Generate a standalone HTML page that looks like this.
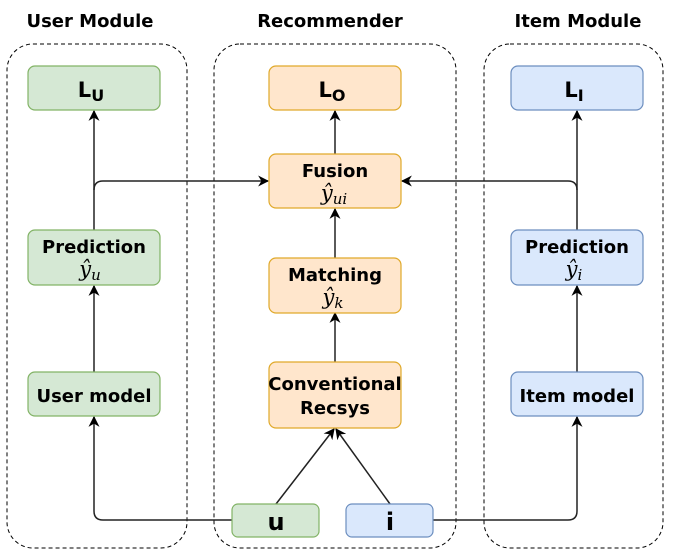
<!DOCTYPE html>
<html><head><meta charset="utf-8"><style>
body{margin:0;background:#fff}
svg{display:block}
.t{font-family:"DejaVu Sans","Liberation Sans",sans-serif;font-weight:bold;font-size:18px;fill:#000;text-anchor:middle}
.m{font-family:"DejaVu Serif","Liberation Serif",serif;font-style:italic;font-size:21px;text-anchor:middle}
.s{font-family:"DejaVu Serif","Liberation Serif",serif;font-style:italic;font-size:15px}
</style></head><body>
<svg width="674" height="555" viewBox="0 0 674 555" xmlns="http://www.w3.org/2000/svg">
<defs><marker id="a" viewBox="0 0 10 10" refX="9" refY="5" markerWidth="11" markerHeight="11" orient="auto" markerUnits="userSpaceOnUse"><path d="M0,0 L10,5 L0,10 L3,5 z" fill="#000"/></marker></defs>
<g fill="none" stroke="#000" stroke-width="1" stroke-dasharray="4,3">
<rect x="7" y="44" width="180" height="504" rx="26"/>
<rect x="214" y="44" width="242" height="504" rx="26"/>
<rect x="484" y="44" width="179" height="504" rx="26"/>
</g>
<text class="t" x="90" y="27">User Module</text>
<text class="t" x="330" y="27">Recommender</text>
<text class="t" x="578" y="27">Item Module</text>
<g fill="none" stroke="#222" stroke-width="1.5">
<line x1="94" y1="230" x2="94" y2="111" marker-end="url(#a)"/>
<line x1="94" y1="372" x2="94" y2="286" marker-end="url(#a)"/>
<path d="M94,190 Q94,181 103,181 L268,181" marker-end="url(#a)"/>
<path d="M232,520 L103,520 Q94,520 94,511 L94,417" marker-end="url(#a)"/>
<line x1="577" y1="230" x2="577" y2="111" marker-end="url(#a)"/>
<line x1="577" y1="372" x2="577" y2="286" marker-end="url(#a)"/>
<path d="M577,190 Q577,181 568,181 L402,181" marker-end="url(#a)"/>
<path d="M433,520 L568,520 Q577,520 577,511 L577,417" marker-end="url(#a)"/>
<line x1="335" y1="154" x2="335" y2="111" marker-end="url(#a)"/>
<line x1="335" y1="258" x2="335" y2="209" marker-end="url(#a)"/>
<line x1="335" y1="362" x2="335" y2="313" marker-end="url(#a)"/>
<line x1="276" y1="504" x2="334" y2="429" marker-end="url(#a)"/>
<line x1="390" y1="504" x2="336" y2="429" marker-end="url(#a)"/>
</g>
<g stroke-width="1.2">
<rect x="28" y="66" width="132" height="44" rx="7" fill="#d5e8d4" stroke="#82b366"/>
<rect x="28" y="230" width="132" height="55" rx="7" fill="#d5e8d4" stroke="#82b366"/>
<rect x="28" y="372" width="132" height="44" rx="7" fill="#d5e8d4" stroke="#82b366"/>
<rect x="269" y="66" width="132" height="44" rx="7" fill="#ffe6cc" stroke="#e0a92a"/>
<rect x="269" y="154" width="132" height="54" rx="7" fill="#ffe6cc" stroke="#e0a92a"/>
<rect x="269" y="258" width="132" height="55" rx="7" fill="#ffe6cc" stroke="#e0a92a"/>
<rect x="269" y="362" width="132" height="66" rx="7" fill="#ffe6cc" stroke="#e0a92a"/>
<rect x="511" y="66" width="132" height="44" rx="7" fill="#dae8fc" stroke="#6c8ebf"/>
<rect x="511" y="230" width="132" height="55" rx="7" fill="#dae8fc" stroke="#6c8ebf"/>
<rect x="511" y="372" width="132" height="44" rx="7" fill="#dae8fc" stroke="#6c8ebf"/>
<rect x="232" y="504" width="87" height="33" rx="6" fill="#d5e8d4" stroke="#82b366"/>
<rect x="346" y="504" width="87" height="33" rx="6" fill="#dae8fc" stroke="#6c8ebf"/>
</g>
<text class="t" x="91" y="97" style="font-size:21px">L<tspan dy="4" style="font-size:16px">U</tspan></text>
<text class="t" x="332" y="97" style="font-size:21px">L<tspan dy="4" style="font-size:16px">O</tspan></text>
<text class="t" x="574" y="97" style="font-size:21px">L<tspan dy="4" style="font-size:16px">I</tspan></text>
<text class="t" x="94" y="253">Prediction</text>
<text class="m" x="90" y="276">ŷ<tspan class="s" dy="4">u</tspan></text>
<text class="t" x="94" y="402">User model</text>
<text class="t" x="335" y="177">Fusion</text>
<text class="m" x="334" y="200">ŷ<tspan class="s" dy="4">ui</tspan></text>
<text class="t" x="335" y="281">Matching</text>
<text class="m" x="333" y="304">ŷ<tspan class="s" dy="4">k</tspan></text>
<text class="t" x="335" y="390">Conventional</text>
<text class="t" x="335" y="414">Recsys</text>
<text class="t" x="577" y="253">Prediction</text>
<text class="m" x="574" y="276">ŷ<tspan class="s" dy="4">i</tspan></text>
<text class="t" x="577" y="402">Item model</text>
<text class="t" x="276" y="530" style="font-size:24px">u</text>
<text class="t" x="390" y="530" style="font-size:24px">i</text>
</svg>
</body></html>
